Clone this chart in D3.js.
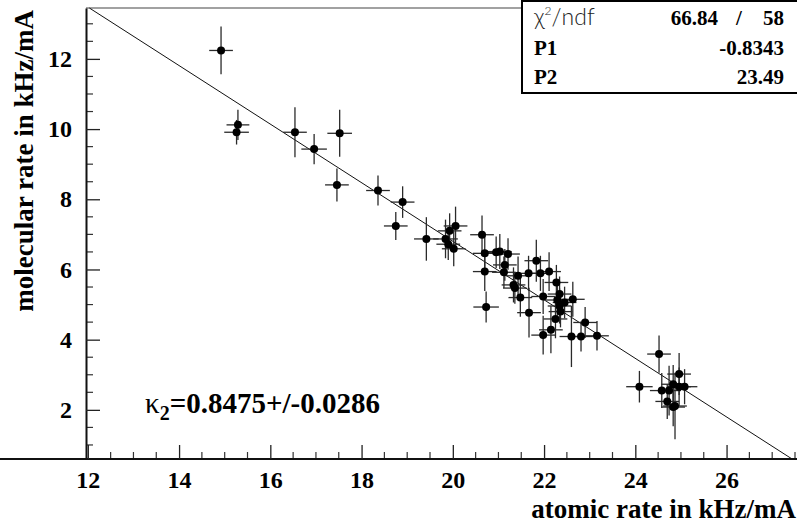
<!DOCTYPE html>
<meta charset="utf-8">
<html>
  <head>
    <style>
      body { margin: 0; background: #fff; }
    </style>
    <script src="https://d3js.org/d3.v7.min.js"></script>
  </head>
  <body>
    <script>

      // atomic rate (x), molecular rate (y) and their errors, in kHz/mA
      var xVals = [14.92, 15.29, 15.26, 16.54, 16.96, 17.52, 17.46, 18.36, 18.75, 18.90,
                   19.42, 19.84, 19.93, 20.06, 19.90, 20.02, 20.64, 20.70, 20.95, 21.03,
                   21.21, 21.14, 20.70, 21.12, 21.43, 21.66, 21.83, 21.92, 22.11, 21.33,
                   21.36, 21.48, 21.98, 22.27, 22.34, 22.29, 22.45, 22.63, 22.34, 22.36,
                   21.67, 22.25, 20.73, 22.15, 21.98, 22.60, 22.81, 22.90, 23.16, 24.52,
                   24.09, 24.58, 24.74, 24.83, 24.96, 24.96, 25.08, 24.70, 24.83, 24.87];
      var yVals = [12.24, 10.12, 9.91, 9.91, 9.43, 9.88, 8.41, 8.25, 7.24, 7.92,
                   6.87, 6.87, 7.10, 7.24, 6.72, 6.59, 6.99, 6.46, 6.49, 6.51,
                   6.44, 6.13, 5.94, 5.92, 5.82, 5.89, 6.25, 5.89, 5.94, 5.56,
                   5.47, 5.20, 5.23, 5.63, 5.30, 5.13, 5.06, 5.15, 4.96, 4.80,
                   4.77, 4.59, 4.93, 4.28, 4.13, 4.09, 4.09, 4.49, 4.11, 3.59,
                   2.66, 2.55, 2.55, 2.73, 3.02, 2.66, 2.66, 2.24, 2.08, 2.11];
      var xErrs = [0.26, 0.25, 0.27, 0.26, 0.28, 0.27, 0.26, 0.26, 0.26, 0.26,
                   0.27, 0.27, 0.26, 0.26, 0.26, 0.26, 0.26, 0.26, 0.26, 0.26,
                   0.26, 0.26, 0.26, 0.26, 0.26, 0.26, 0.26, 0.26, 0.26, 0.26,
                   0.26, 0.26, 0.26, 0.26, 0.26, 0.26, 0.26, 0.26, 0.26, 0.26,
                   0.26, 0.26, 0.28, 0.26, 0.26, 0.26, 0.26, 0.26, 0.26, 0.26,
                   0.29, 0.26, 0.26, 0.26, 0.26, 0.26, 0.28, 0.26, 0.26, 0.26];
      var yErrs = [0.68, 0.43, 0.35, 0.71, 0.43, 0.67, 0.47, 0.43, 0.40, 0.45,
                   0.62, 0.55, 0.50, 0.55, 0.45, 0.50, 0.55, 0.50, 0.45, 0.50,
                   0.45, 0.45, 0.55, 0.45, 0.55, 0.50, 0.60, 0.50, 0.55, 0.50,
                   0.45, 0.55, 0.50, 0.50, 0.50, 0.45, 0.45, 0.50, 0.50, 0.45,
                   0.71, 0.55, 0.44, 0.67, 0.55, 0.87, 0.43, 0.44, 0.42, 0.53,
                   0.45, 0.50, 0.71, 0.55, 0.60, 0.55, 0.50, 0.50, 0.55, 0.95];

      // fit result pol1: y = P2 + P1*x
      var fitP1 = -0.8343,
          fitP2 = 23.49;
      var statRows = [["P1", "-0.8343"], ["P2", "23.49"]];
      var chiText = ["66.84", "/", "58"];
      var xMajor = [12, 14, 16, 18, 20, 22, 24, 26],
          yMajor = [2, 4, 6, 8, 10, 12];

      var width = 797,
          height = 525,
          serif = '"Liberation Serif", "Times New Roman", Times, serif';

      var svg = d3.select('body').append('svg')
          .attr('width', width)
          .attr('height', height);

      var x = d3.scaleLinear().domain([11.96, 27.5]).range([86, 795]),
          y = d3.scaleLinear().domain([0.6, 13.45]).range([459, 8]);

      var data = xVals.map(function(d, i) {
          return {x: d, y: yVals[i], ex: xErrs[i], ey: yErrs[i]};
      });

      function label(sel, size) {
          return sel.style("font-family", serif)
              .style("font-weight", "bold")
              .style("font-size", size + "px")
              .attr("fill", "#000");
      }

      // frame top line
      svg.append("line")
          .attr("x1", x.range()[0]).attr("x2", width)
          .attr("y1", y.range()[1]).attr("y2", y.range()[1])
          .attr("stroke", "#444").attr("stroke-width", 1.2);

      // minor ticks
      var xMinor = d3.range(12, 27.51, 0.5).filter(function(v) { return v % 2 != 0; }),
          yMinor = d3.range(1, 13.5, 0.5).filter(function(v) { return v % 2 != 0; });

      svg.append("g").selectAll("line")
          .data(xMinor).enter().append("line")
          .attr("x1", function(d) { return x(d); })
          .attr("x2", function(d) { return x(d); })
          .attr("y1", y.range()[0]).attr("y2", y.range()[0] - 7)
          .attr("stroke", "#333").attr("stroke-width", 1.2);

      svg.append("g").selectAll("line")
          .data(yMinor).enter().append("line")
          .attr("x1", x.range()[0]).attr("x2", x.range()[0] + 7)
          .attr("y1", function(d) { return y(d); })
          .attr("y2", function(d) { return y(d); })
          .attr("stroke", "#333").attr("stroke-width", 1.2);

      // major ticks + labels
      var xAxis = svg.append("g")
          .attr("transform", "translate(0," + y.range()[0] + ")")
          .call(d3.axisBottom(x).tickValues(xMajor).tickSize(-14).tickSizeOuter(0).tickPadding(12)
                .tickFormat(d3.format("d")));

      var yAxis = svg.append("g")
          .attr("transform", "translate(" + x.range()[0] + ",0)")
          .call(d3.axisLeft(y).tickValues(yMajor).tickSize(-14).tickSizeOuter(0).tickPadding(14)
                .tickFormat(d3.format("d")));

      [xAxis, yAxis].forEach(function(a) {
          a.attr("font-family", null).attr("font-size", null);
          a.select(".domain").attr("stroke", "#111").attr("stroke-width", 2);
          a.selectAll(".tick line").attr("stroke", "#222").attr("stroke-width", 1.3);
          label(a.selectAll(".tick text"), 24);
      });
      // x axis line runs to the right border
      xAxis.select(".domain").attr("d", "M0,0H" + width);

      // fit line, clipped to the frame
      var xTop = (y.domain()[1] - fitP2) / fitP1,
          xBot = (y.domain()[0] - fitP2) / fitP1;
      var fitPts = [Math.max(xTop, x.domain()[0]), Math.min(xBot, x.domain()[1])];
      svg.append("path")
          .datum(fitPts)
          .attr("fill", "none")
          .attr("stroke", "#111")
          .attr("stroke-width", 1)
          .attr("d", d3.line()
                .x(function(d) { return x(d); })
                .y(function(d) { return y(fitP2 + fitP1 * d); }));

      // error bars
      var pts = svg.append("g");
      pts.selectAll(".ex")
          .data(data).enter().append("line")
          .attr("x1", function(d) { return x(d.x - d.ex); })
          .attr("x2", function(d) { return x(d.x + d.ex); })
          .attr("y1", function(d) { return y(d.y); })
          .attr("y2", function(d) { return y(d.y); })
          .attr("stroke", "#2a2a2a").attr("stroke-width", 1.3);
      pts.selectAll(".ey")
          .data(data).enter().append("line")
          .attr("x1", function(d) { return x(d.x); })
          .attr("x2", function(d) { return x(d.x); })
          .attr("y1", function(d) { return y(d.y - d.ey); })
          .attr("y2", function(d) { return y(d.y + d.ey); })
          .attr("stroke", "#2a2a2a").attr("stroke-width", 1.3);
      pts.selectAll("circle")
          .data(data).enter().append("circle")
          .attr("cx", function(d) { return x(d.x); })
          .attr("cy", function(d) { return y(d.y); })
          .attr("r", 4)
          .attr("fill", "#000");

      // axis titles
      label(svg.append("text"), 27)
          .attr("x", width - 1)
          .attr("y", 518)
          .attr("text-anchor", "end")
          .text("atomic rate in kHz/mA");

      label(svg.append("text"), 27)
          .attr("transform", "translate(33,10)rotate(-90)")
          .attr("text-anchor", "end")
          .text("molecular rate in kHz/mA");

      // kappa label
      var kap = label(svg.append("text"), 29)
          .attr("x", 145)
          .attr("y", 413);
      kap.append("tspan").style("font-weight", "normal").text("κ");
      kap.append("tspan").attr("dy", 7).style("font-size", "20px").text("2");
      kap.append("tspan").attr("dy", -7).text("=0.8475+/-0.0286");

      // stat box
      var box = svg.append("g");
      box.append("rect")
          .attr("x", 522).attr("y", 1)
          .attr("width", 280).attr("height", 92)
          .attr("fill", "#fff")
          .attr("stroke", "#000").attr("stroke-width", 2);

      var chi = box.append("text")
          .attr("x", 534).attr("y", 25)
          .style("font-family", 'Lato, "Liberation Sans", sans-serif')
          .style("font-weight", 300)
          .style("font-size", "23px")
          .attr("fill", "#222");
      chi.append("tspan").text("χ");
      chi.append("tspan").attr("dy", -10).style("font-size", "12px").text("2");
      chi.append("tspan").attr("dy", 10).text("/ndf");

      label(box.append("text"), 21)
          .attr("x", 718).attr("y", 25).attr("text-anchor", "end")
          .text(chiText[0]);
      label(box.append("text"), 21)
          .attr("x", 739).attr("y", 25).attr("text-anchor", "middle")
          .text(chiText[1]);
      label(box.append("text"), 21)
          .attr("x", 784).attr("y", 25).attr("text-anchor", "end")
          .text(chiText[2]);

      statRows.forEach(function(r, i) {
          label(box.append("text"), 21)
              .attr("x", 534).attr("y", 55 + i * 29)
              .text(r[0]);
          label(box.append("text"), 21)
              .attr("x", 784).attr("y", 55 + i * 29).attr("text-anchor", "end")
              .text(r[1]);
      });

    </script>
  </body>
</html>
